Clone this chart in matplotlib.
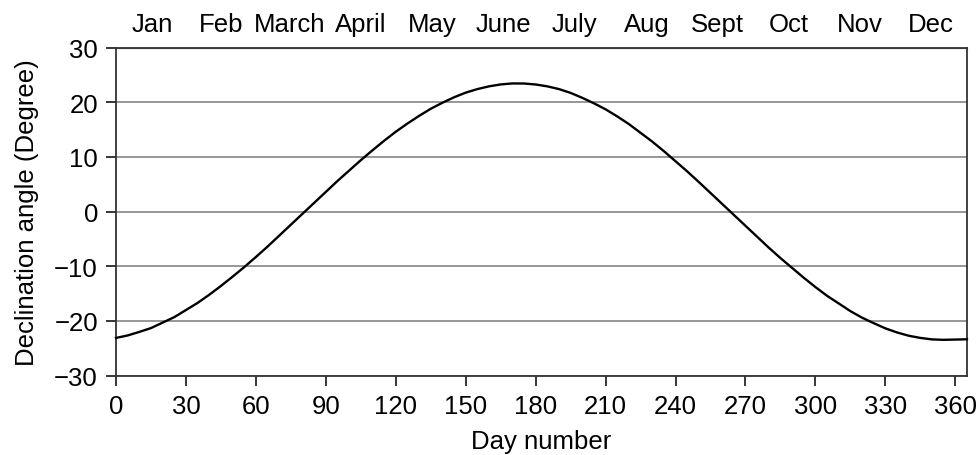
import matplotlib
matplotlib.use("Agg")
import matplotlib.pyplot as plt

# declination angle, every 5 days
day = [0, 5, 10, 15, 20, 25, 30, 35, 40, 45, 50, 55, 60, 65, 70, 75, 80, 85,
       90, 95, 100, 105, 110, 115, 120, 125, 130, 135, 140, 145, 150, 155,
       160, 165, 170, 175, 180, 185, 190, 195, 200, 205, 210, 215, 220, 225,
       230, 235, 240, 245, 250, 255, 260, 265, 270, 275, 280, 285, 290, 295,
       300, 305, 310, 315, 320, 325, 330, 335, 340, 345, 350, 355, 360, 365]
decl = [-23.1, -22.65, -22.0, -21.3, -20.3, -19.3, -18.0, -16.7, -15.2, -13.6,
        -11.9, -10.15, -8.3, -6.4, -4.4, -2.4, -0.4, 1.6,
        3.6, 5.6, 7.5, 9.4, 11.2, 12.95, 14.6, 16.1, 17.5, 18.8, 19.9, 20.9,
        21.75, 22.4, 22.9, 23.25, 23.43, 23.42, 23.24, 22.9, 22.4, 21.7,
        20.8, 19.8, 18.7, 17.4, 16.0, 14.4, 12.8, 11.05, 9.2, 7.35, 5.4, 3.4,
        1.4, -0.6, -2.6, -4.6, -6.6, -8.5, -10.3, -12.1, -13.8, -15.4, -16.8,
        -18.2, -19.4, -20.4, -21.35, -22.1, -22.7, -23.1, -23.37, -23.45,
        -23.4, -23.35]

months = ['Jan', 'Feb', 'March', 'April', 'May', 'June', 'July', 'Aug',
          'Sept', 'Oct', 'Nov', 'Dec']
month_mid = [15.5, 45, 74.5, 105, 135.5, 166, 196.5, 227.5, 258, 288.5,
             319, 349.5]

x_ticks = list(range(0, 361, 30))
y_ticks = list(range(-30, 31, 10))

plt.rcParams['font.family'] = ['Liberation Sans', 'DejaVu Sans']
fontSize = 18.5

fig = plt.figure(figsize=(9.79, 4.56), dpi=100)
ax = fig.add_axes([0.1185, 0.174, 0.8692, 0.7196])

for yv in y_ticks:
    ax.axhline(yv, color='#7a7a7a', linewidth=1.1, zorder=1)
ax.plot(day, decl, color='black', linewidth=1.7, zorder=3, clip_on=False)

ax.set_xlim(0, 365)
ax.set_ylim(-30, 30)
ax.set_xticks(x_ticks)
ax.set_yticks(y_ticks)
ax.tick_params(direction='out', length=7, width=1.1, pad=6,
               labelsize=fontSize, colors='black')
for s in ax.spines.values():
    s.set_linewidth(1.3)
    s.set_color('#333333')

ax.set_xlabel('Day number', fontsize=fontSize, labelpad=8)
ax.set_ylabel('Declination angle (Degree)', fontsize=fontSize, labelpad=11)

top = ax.secondary_xaxis('top')
top.set_xticks(month_mid, labels=months)
top.tick_params(length=0, pad=8, labelsize=fontSize)

fig.savefig('out.png', dpi=100)
